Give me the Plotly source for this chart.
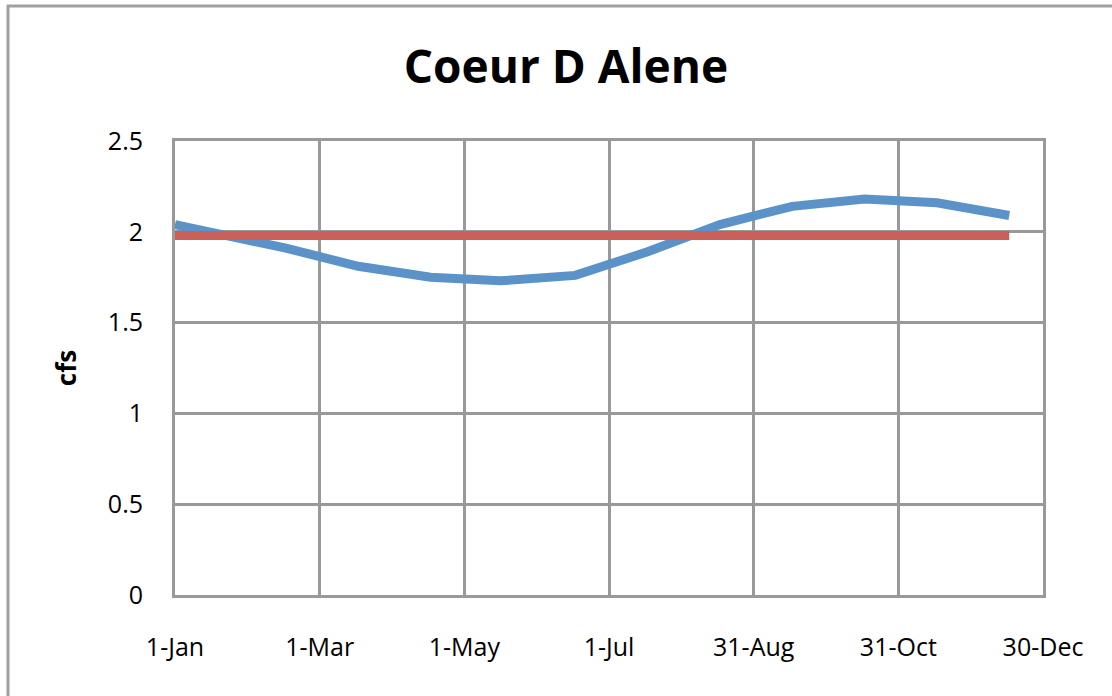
import plotly.graph_objects as go

# Data (day of year from 1-Jan)
day_of_year = [0, 46, 76, 106, 135, 166, 196, 226, 256, 286, 316, 346]
flow_cfs = [2.04, 1.91, 1.81, 1.75, 1.73, 1.76, 1.89, 2.04, 2.14, 2.18, 2.16, 2.09]
mean_cfs = [1.98] * len(day_of_year)

tick_days = [0, 60, 120, 180, 240, 300, 360]
tick_labels = ["1-Jan", "1-Mar", "1-May", "1-Jul", "31-Aug", "31-Oct", "30-Dec"]
y_ticks = [0, 0.5, 1, 1.5, 2, 2.5]
y_labels = ["0", "0.5", "1", "1.5", "2", "2.5"]

GRID = "#999999"
FONT = "Open Sans"

fig = go.Figure()
fig.add_trace(go.Scatter(x=day_of_year, y=flow_cfs, mode="lines",
                         line=dict(color="#5B93C9", width=9), showlegend=False))
fig.add_trace(go.Scatter(x=day_of_year, y=mean_cfs, mode="lines",
                         line=dict(color="#C9605A", width=9), showlegend=False))

L, R, T, B = 175, 1043, 141, 595
W, H = 1112, 696
pw, ph = R - L, B - T

def px_x(px):
    return (px - L) / pw

def px_y(py):
    return (B - py) / ph

fig.update_layout(
    width=W, height=H,
    margin=dict(l=L, r=W - R, t=T, b=H - B),
    paper_bgcolor="white", plot_bgcolor="white",
    font=dict(family=FONT, color="black", size=26),
    title=dict(text="<b>Coeur D Alene</b>", x=566 / W, xanchor="center",
               y=1 - 67 / H, yanchor="middle", xref="container", yref="container",
               font=dict(family=FONT, size=46, color="black")),
    xaxis=dict(range=[0, 360], tickvals=tick_days, ticktext=tick_labels,
               showgrid=True, gridcolor=GRID, gridwidth=3,
               showline=True, linecolor=GRID, linewidth=3, mirror=True,
               ticks="outside", ticklen=28, tickcolor="rgba(0,0,0,0)",
               tickfont=dict(size=25), zeroline=False, fixedrange=True),
    yaxis=dict(range=[0, 2.5], tickvals=y_ticks, ticktext=y_labels,
               showgrid=True, gridcolor=GRID, gridwidth=3,
               showline=True, linecolor=GRID, linewidth=3, mirror=True,
               ticks="outside", ticklen=24, tickcolor="rgba(0,0,0,0)",
               tickfont=dict(size=25), zeroline=False,
               title=dict(text="<b>cfs</b>", standoff=24, font=dict(size=26))),
    shapes=[dict(type="rect", xref="paper", yref="paper",
                 x0=px_x(8), x1=px_x(1140), y0=px_y(6), y1=px_y(720),
                 line=dict(color="#A0A0A0", width=3), fillcolor="rgba(0,0,0,0)",
                 layer="below")],
)

fig.write_html("out.html", config={"displayModeBar": False},
               post_script="document.body.style.margin='0';document.body.style.overflow='hidden';")
